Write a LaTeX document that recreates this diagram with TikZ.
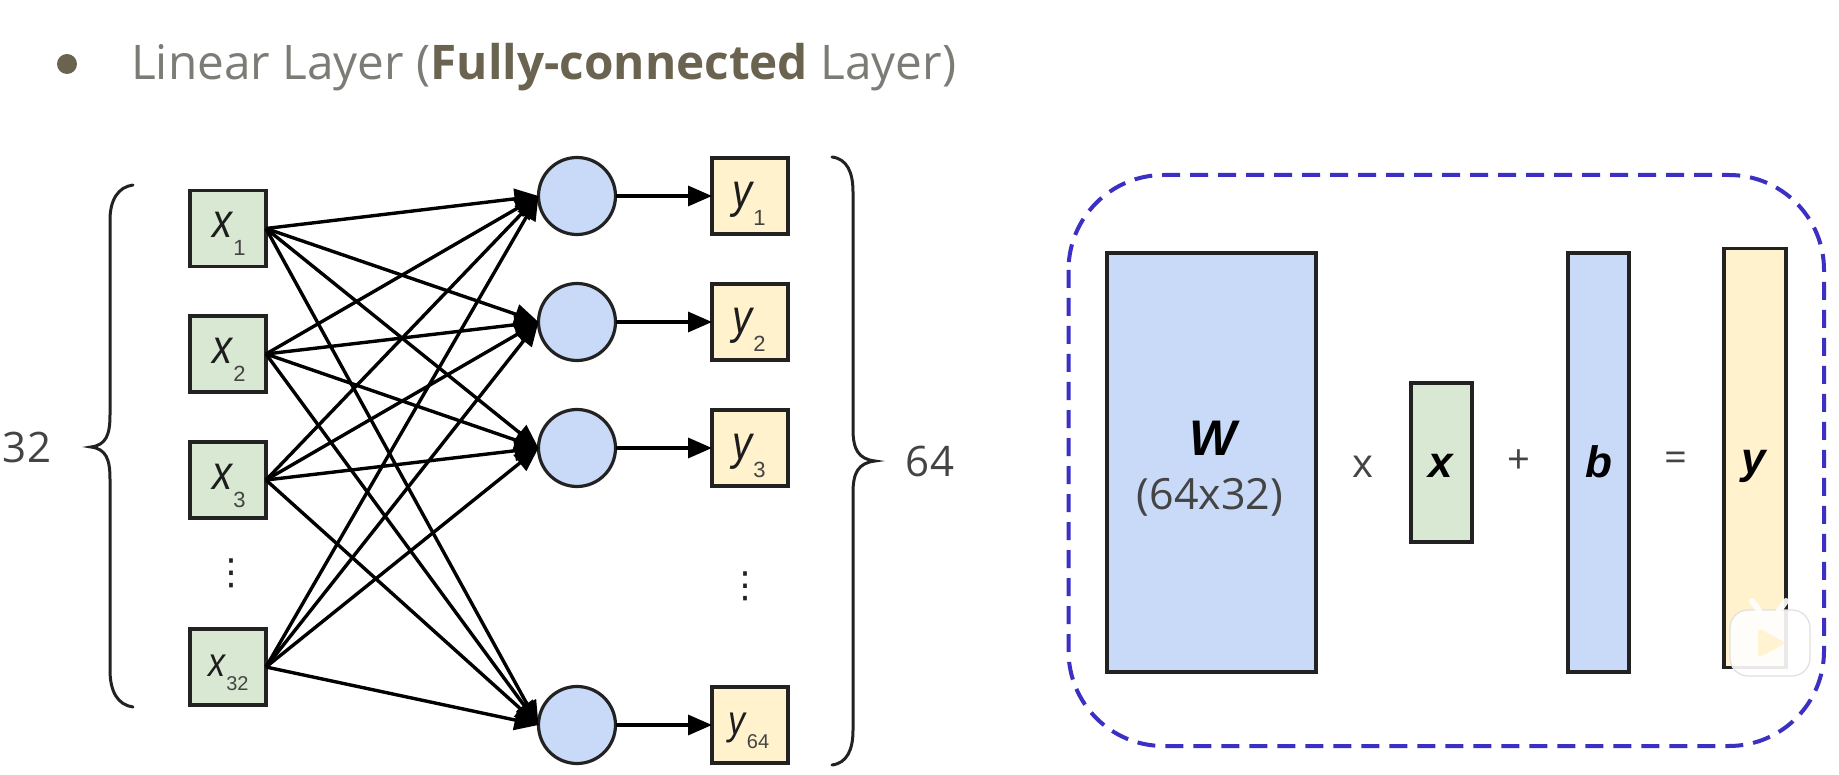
\documentclass[tikz,border=0pt]{standalone}
\usepackage{fontspec}
\usepackage{graphicx}
\setmainfont{Open Sans}
\newfontfamily\arialf{Liberation Sans}
\newfontfamily\dejavuf{DejaVu Sans}
\usetikzlibrary{arrows.meta}
\definecolor{bgreen}{HTML}{D9E8D3}
\definecolor{bblue}{HTML}{C9DAF8}
\definecolor{byellow}{HTML}{FFF2CC}
\definecolor{edge}{HTML}{222222}
\definecolor{titlegrey}{HTML}{7C7C76}
\definecolor{titlebold}{HTML}{6A6350}
\definecolor{dashblue}{HTML}{3B2FC4}
\definecolor{lbl}{HTML}{444444}
\tikzset{
  x=1pt,y=-1pt,
  cell/.style={draw=edge,line width=3.2pt,minimum width=76pt,minimum height=76pt,inner sep=0pt,outer sep=0pt},
  inbox/.style={cell,fill=bgreen},
  outbox/.style={cell,fill=byellow},
  neuron/.style={circle,draw=edge,line width=3.2pt,fill=bblue,minimum size=77pt,inner sep=0pt,outer sep=0pt},
  conn/.style={line width=3.4pt,draw=black,-{Triangle[length=24pt,width=20pt]}},
  bracestroke/.style={draw=edge,line width=3pt,line cap=round},
  bar/.style={draw=edge,line width=3.4pt,inner sep=0pt,outer sep=0pt},
  sidenum/.style={font=\fontsize{42}{42}\selectfont,text=lbl},
  cellab/.style={font=\arialf\itshape\fontsize{40}{40}\selectfont,text=edge!85!black},
  cellabsmall/.style={font=\arialf\itshape\fontsize{34}{34}\selectfont,text=edge!85!black},
  matlab/.style={font=\arialf\bfseries\itshape\fontsize{44}{44}\selectfont,text=black},
  opsym/.style={font=\fontsize{40}{40}\selectfont,text=lbl},
  vdotslab/.style={font=\dejavuf\fontsize{36}{36}\selectfont,text=edge},
}
\newcommand{\lab}[2]{\scalebox{1}[1.2]{#1}\kern1pt\raisebox{-18pt}{\upshape\textcolor{lbl}{\fontsize{22}{22}\selectfont #2}}}
\newcommand{\labs}[2]{\scalebox{1}[1.2]{#1}\kern1pt\raisebox{-14pt}{\upshape\textcolor{lbl}{\fontsize{20}{20}\selectfont #2}}}
\begin{document}
\begin{tikzpicture}
\useasboundingbox (0,0) rectangle (1839,775);
\fill[white] (0,0) rectangle (1839,775);
% title
\node[circle,fill=titlebold,minimum size=20pt,inner sep=0pt] (bullet) at (67,64) {};
\node[anchor=base west,inner sep=0pt,text=titlegrey,font=\fontsize{47.7}{47.7}\selectfont] (title) at (131,80) {Linear Layer (\textcolor{titlebold}{\bfseries Fully-connected} Layer)};
% inputs
\node[inbox] (x1) at (228,228.5) {};
\node[inbox] (x2) at (228,354) {};
\node[inbox] (x3) at (228,480) {};
\node[inbox] (x32) at (228,667) {};
\node[cellab] (lx1) at (229,234) {\lab{x}{1}};
\node[cellab] (lx2) at (229,360) {\lab{x}{2}};
\node[cellab] (lx3) at (229,486) {\lab{x}{3}};
\node[cellabsmall] (lx32) at (228.5,673) {\labs{x}{32}};
% neurons
\node[neuron] (n1) at (577,196) {};
\node[neuron] (n2) at (577,322) {};
\node[neuron] (n3) at (577,448) {};
\node[neuron] (n64) at (577,725) {};
% outputs
\node[outbox] (y1) at (750,196) {};
\node[outbox] (y2) at (750,322) {};
\node[outbox] (y3) at (750,448) {};
\node[outbox] (y64) at (750,725) {};
\node[cellab] (ly1) at (749,204) {\lab{y}{1}};
\node[cellab] (ly2) at (749,330) {\lab{y}{2}};
\node[cellab] (ly3) at (749,456) {\lab{y}{3}};
\node[cellabsmall] (ly64) at (749,731) {\labs{y}{64}};
% connectors
\foreach \a in {x1,x2,x3,x32}{
  \foreach \b in {n1,n2,n3,n64}{
    \draw[conn] (\a.east) -- (\b.west);
  }
}
\foreach \i/\o in {n1/y1,n2/y2,n3/y3,n64/y64}{
  \draw[conn] (\i.east) -- (\o.west);
}
% dots
\node[vdotslab] (dl) at (231,573) {⋮};
\node[vdotslab] (dr) at (745,586) {⋮};
% braces
\draw[bracestroke] (133,185) .. controls (118,187) and (110,200) .. (110,220)
  -- (110,415) .. controls (110,435) and (106,445) .. (91,447)
  .. controls (106,449) and (110,459) .. (110,479)
  -- (110,670) .. controls (110,692) and (118,705) .. (133,707);
\draw[bracestroke] (832,157) .. controls (847,159) and (853,172) .. (853,192)
  -- (853,429) .. controls (853,449) and (858,459) .. (875,461)
  .. controls (858,463) and (853,473) .. (853,493)
  -- (853,730) .. controls (853,750) and (847,763) .. (832,765);
\node[sidenum] (n32) at (27,447) {32};
\node[sidenum] (n64t) at (930,461) {64};
% right panel
\draw[draw=dashblue,line width=4pt,dash pattern=on 18pt off 10pt,rounded corners=95pt] (1068.5,175) rectangle (1824,746);
\node[bar,fill=bblue,minimum width=209pt,minimum height=419pt] (W) at (1211.5,462.5) {};
\node[bar,fill=bgreen,minimum width=61pt,minimum height=159pt] (xv) at (1441.5,462.5) {};
\node[bar,fill=bblue,minimum width=61pt,minimum height=419pt] (bv) at (1598.5,462.5) {};
\node[bar,fill=byellow,minimum width=62pt,minimum height=419pt] (yv) at (1755,458) {};
\node[matlab,font=\arialf\bfseries\itshape\fontsize{50}{50}\selectfont] (Wl) at (1213,438) {W};
\node[sidenum,text=lbl,font=\fontsize{43}{43}\selectfont] (Wd) at (1210,497) {(64x32)};
\node[opsym] (times) at (1363,467) {x};
\node[matlab] (xl) at (1441,466) {x};
\node[opsym] (plus) at (1519,462) {+};
\node[matlab] (bl) at (1599,462) {b};
\node[opsym] (eq) at (1676,462) {=};
\node[matlab] (yl) at (1754,466) {y};
% play badge
\fill[white,fill opacity=0.9,rounded corners=18pt] (1730,610) rectangle (1810,676);
\draw[black!12,line width=1.2pt,rounded corners=18pt] (1730,610) rectangle (1810,676);
\fill[fill=byellow!90!white,rounded corners=4pt] (1758,628) -- (1758,658) -- (1786,643) -- cycle;
\draw[white,line width=6pt,line cap=round,opacity=0.9] (1752,601) -- (1760,612);
\draw[white,line width=6pt,line cap=round,opacity=0.9] (1786,601) -- (1778,612);
\end{tikzpicture}
\end{document}
